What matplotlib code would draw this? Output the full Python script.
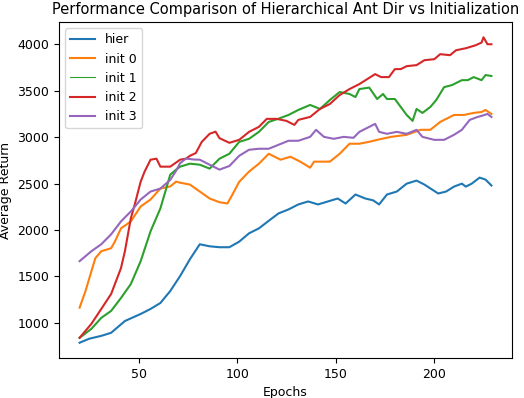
import matplotlib
matplotlib.use('Agg')
import matplotlib.pyplot as plt

# values (epoch, average return)
hier_epochs = [20, 25, 31, 36, 43, 51, 56, 61, 66, 71, 76, 81, 86, 91, 96, 101, 106, 111, 116,
               121, 126, 131, 136, 141, 146, 151, 155, 160, 165, 169, 172, 176, 181, 186, 191,
               195, 202, 206, 210, 214, 216, 219, 223, 226, 229]
hier_values = [786, 830, 860, 893, 1020, 1096, 1150, 1214, 1343, 1504, 1686, 1847, 1825, 1815,
               1815, 1875, 1965, 2018, 2100, 2180, 2222, 2276, 2308, 2276, 2308, 2340, 2286,
               2383, 2340, 2320, 2276, 2383, 2415, 2500, 2533, 2490, 2394, 2415, 2468, 2500,
               2468, 2500, 2565, 2544, 2480]

init0_epochs = [20, 23, 26, 28, 31, 36, 38, 41, 46, 51, 56, 61, 66, 69, 71, 76, 81, 86, 91, 95,
                97, 101, 106, 111, 116, 119, 122, 127, 132, 137, 139, 147, 152, 157, 162, 167,
                171, 178, 186, 193, 198, 203, 210, 215, 220, 224, 226, 229]
init0_values = [1164, 1343, 1557, 1697, 1772, 1804, 1880, 2018, 2093, 2254, 2329, 2447, 2470,
                2522, 2510, 2490, 2415, 2340, 2300, 2286, 2360, 2520, 2630, 2715, 2822, 2790,
                2758, 2790, 2737, 2672, 2737, 2737, 2822, 2930, 2930, 2951, 2972, 3004, 3026,
                3080, 3080, 3165, 3240, 3240, 3262, 3272, 3294, 3251]

init1_epochs = [20, 26, 31, 36, 41, 46, 51, 56, 61, 64, 66, 69, 71, 76, 81, 86, 91, 96, 101,
                106, 111, 116, 121, 126, 131, 137, 142, 147, 152, 157, 160, 162, 167, 171, 174,
                176, 180, 183, 186, 189, 191, 194, 198, 201, 205, 209, 214, 217, 220, 224, 226,
                229]
init1_values = [839, 936, 1054, 1129, 1268, 1418, 1665, 1986, 2233, 2450, 2597, 2651, 2683,
                2715, 2704, 2662, 2769, 2822, 2950, 2983, 3058, 3165, 3200, 3240, 3294, 3348,
                3305, 3401, 3487, 3466, 3433, 3519, 3535, 3412, 3466, 3412, 3412, 3326, 3240,
                3176, 3305, 3262, 3326, 3401, 3540, 3562, 3615, 3615, 3648, 3615, 3670, 3660]

init2_epochs = [20, 26, 31, 36, 41, 43, 46, 48, 51, 53, 56, 59, 61, 66, 71, 74, 76, 79, 82, 86,
                89, 91, 96, 101, 106, 111, 115, 120, 125, 129, 131, 137, 142, 147, 152, 157,
                162, 167, 170, 173, 177, 180, 183, 186, 191, 195, 200, 203, 208, 211, 216, 221,
                224, 225, 227, 229]
init2_values = [839, 990, 1150, 1311, 1590, 1772, 2126, 2276, 2522, 2630, 2758, 2769, 2683,
                2683, 2758, 2769, 2800, 2830, 2950, 3037, 3060, 2990, 2940, 2972, 3058, 3112,
                3198, 3198, 3176, 3133, 3187, 3219, 3305, 3358, 3455, 3519, 3573, 3640, 3680,
                3648, 3648, 3734, 3734, 3766, 3777, 3830, 3841, 3895, 3884, 3937, 3959, 3991,
                4020, 4077, 4002, 4002]

init3_epochs = [20, 26, 31, 36, 41, 46, 51, 56, 61, 66, 69, 71, 74, 78, 81, 86, 91, 96, 101,
                106, 111, 116, 121, 126, 131, 137, 140, 144, 149, 154, 159, 162, 167, 170, 172,
                176, 181, 186, 191, 194, 200, 205, 210, 214, 218, 222, 224, 227, 229]
init3_values = [1665, 1772, 1847, 1954, 2093, 2200, 2329, 2415, 2447, 2540, 2640, 2720, 2770,
                2760, 2758, 2704, 2651, 2690, 2800, 2865, 2876, 2876, 2919, 2962, 2962, 3004,
                3080, 3004, 2983, 3004, 2994, 3058, 3112, 3144, 3058, 3037, 3058, 3037, 3080,
                3004, 2972, 2972, 3026, 3080, 3187, 3219, 3230, 3251, 3219]

series = [
    ('hier', hier_epochs, hier_values),
    ('init 0', init0_epochs, init0_values),
    ('init 1', init1_epochs, init1_values),
    ('init 2', init2_epochs, init2_values),
    ('init 3', init3_epochs, init3_values),
]

fig = plt.figure(figsize=(5.24, 3.98), dpi=100)
ax = fig.add_axes([0.1126, 0.1005, 0.8645, 0.8442])

for name, ep, val in series:
    ax.plot(ep, val, label=name)

ax.set_title('Performance Comparison of Hierarchical Ant Dir vs Initialization', fontsize=10.5)
ax.set_xlabel('Epochs', fontsize=9)
ax.set_ylabel('Average Return', fontsize=9)
ax.tick_params(labelsize=9)
ax.set_xticks([50, 100, 150, 200])

leg = ax.legend(loc='upper left', fontsize=9)
# the reference legend draws the "init 1" handle with a thinner stroke
leg.get_lines()[2].set_linewidth(0.8)

fig.savefig('out.png', dpi=100)
